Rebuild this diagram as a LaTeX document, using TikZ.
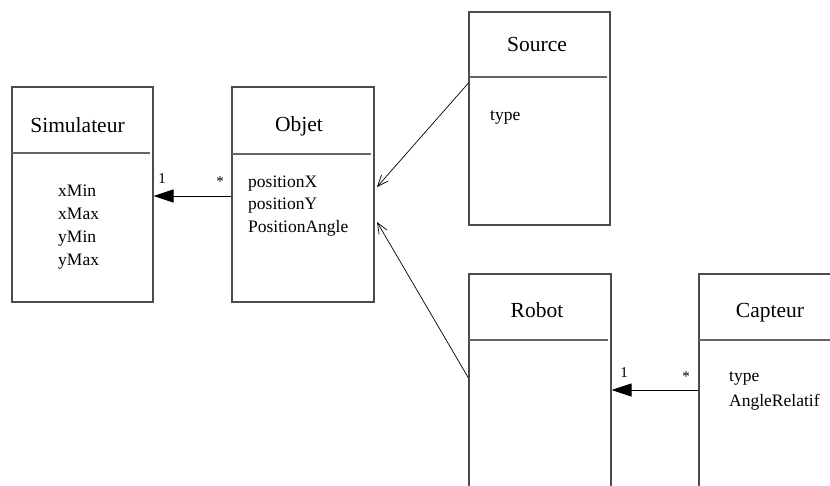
\documentclass[tikz,border=0pt]{standalone}
\usepackage{fontspec}
\setmainfont{Liberation Serif}
\usetikzlibrary{arrows.meta}
\tikzset{
        classbox/.style={draw=black!70, line width=1.1pt, inner sep=0pt},
        sep/.style={draw=black!60, line width=1.1pt},
        classname/.style={font=\fontsize{21.5}{26}\selectfont, anchor=base, inner sep=0pt},
        attrs/.style={font=\fontsize{17.5}{23}\selectfont, align=left, anchor=base west, inner sep=0pt},
        mult/.style={font=\fontsize{15}{18}\selectfont, anchor=base, inner sep=0pt},
        assoc/.style={line width=0.8pt, -{Triangle[length=20pt,width=13pt]}},
        inherit/.style={line width=0.7pt, -{Straight Barb[length=11pt,width=9pt]}}
}
\begin{document}
\begin{tikzpicture}[x=1pt,y=-1pt]
        \clip (0,0) rectangle (830,485);
        \node (sim) [classbox, minimum width=141pt, minimum height=215pt] at (82.5,194.5) {};
        \node (objet) [classbox, minimum width=142pt, minimum height=215pt] at (303,194.5) {};
        \node (source) [classbox, minimum width=141pt, minimum height=213pt] at (539.5,118.5) {};
        \node (robot) [classbox, minimum width=142pt, minimum height=246pt] at (540,397) {};
        \node (capteur) [classbox, minimum width=161pt, minimum height=246pt] at (779.5,397) {};
        \draw[sep] (12,153) -- (150,153);
        \draw[sep] (232,154) -- (371,154);
        \draw[sep] (469,77) -- (607,77);
        \draw[sep] (469,340) -- (608,340);
        \draw[sep] (699,340) -- (830,340);
        \node (simname) [classname] at (77.5,132) {Simulateur};
        \node (objetname) [classname] at (299,131) {Objet};
        \node (sourcename) [classname] at (537,51) {Source};
        \node (robotname) [classname] at (537,317) {Robot};
        \node (capteurname) [classname] at (770,317) {Capteur};
        \node (simattrs) [attrs] at (58,265) {xMin\\xMax\\yMin\\yMax};
        \node (objetattrs) [attrs, font=\fontsize{17.5}{22.5}\selectfont] at (248,232) {positionX\\positionY\\PositionAngle};
        \node (sourceattrs) [attrs] at (490,120) {type};
        \node (capteurattrs) [attrs, font=\fontsize{17.5}{25}\selectfont] at (729,406) {type\\AngleRelatif};
        \coordinate (tipsource) at (377,187);
        \coordinate (tiprobot) at (377,222);
        \draw[assoc] (objet.west |- 0,196) -- (sim.east |- 0,196);
        \draw[inherit] (source.west |- 0,83) -- (tipsource);
        \draw[inherit] (robot.west |- 0,378) -- (tiprobot);
        \draw[assoc] (capteur.west |- 0,390) -- (robot.east |- 0,390);
        \node (simone) [mult] at (162,183) {1};
        \node (objetstar) [mult] at (220,186) {*};
        \node (robotone) [mult] at (624,377) {1};
        \node (capteurstar) [mult] at (686,381) {*};
\end{tikzpicture}
\end{document}
